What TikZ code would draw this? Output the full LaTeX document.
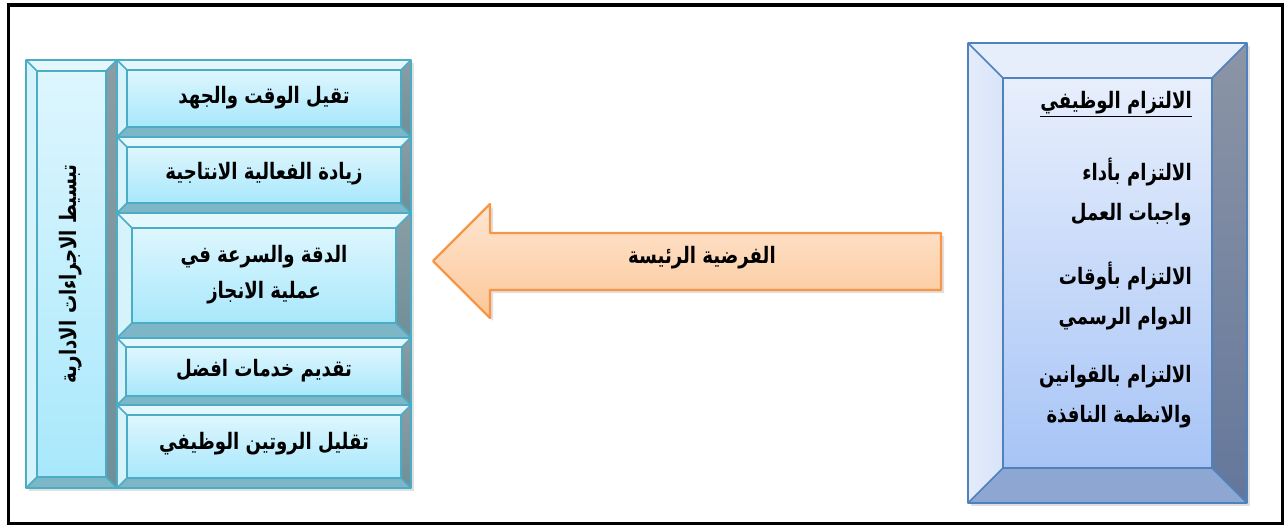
\documentclass[tikz,border=0pt]{standalone}
\usepackage{fontspec}
\newfontfamily\arabicfont[Script=Arabic,FakeStretch=0.8]{DejaVu Sans}
\TeXXeTstate=1

\definecolor{cyanedge}{HTML}{4BACC6}
\definecolor{cyanfacetop}{HTML}{DEF6FE}
\definecolor{cyanfacebot}{HTML}{A8E8FB}
\definecolor{cyantop}{HTML}{E4F7FD}
\definecolor{cyanleft}{HTML}{D6F3FC}
\definecolor{cyanrighttop}{HTML}{8A9DA4}
\definecolor{cyanrightbot}{HTML}{6F8F99}
\definecolor{cyanbottom}{HTML}{7DB6C6}
\definecolor{blueedge}{HTML}{4F81BD}
\definecolor{bluefacetop}{HTML}{E8EFFC}
\definecolor{bluefacebot}{HTML}{A7C4F6}
\definecolor{bluetop}{HTML}{E6EDFB}
\definecolor{blueleft}{HTML}{D9E4F9}
\definecolor{bluerighttop}{HTML}{8C95A6}
\definecolor{bluerightbot}{HTML}{64779B}
\definecolor{bluebottom}{HTML}{8EA7D2}
\definecolor{arrowedge}{HTML}{F79646}
\definecolor{arrowtop}{HTML}{FFE6D3}
\definecolor{arrowbot}{HTML}{FBC797}

\tikzset{
  cyan face/.style={top color=cyanfacetop,bottom color=cyanfacebot},
  cyan top/.style={fill=cyantop},
  cyan left/.style={fill=cyanleft},
  cyan right/.style={top color=cyanrighttop,bottom color=cyanrightbot},
  cyan bottom/.style={fill=cyanbottom},
  cyan edge/.style={draw=cyanedge,line width=1.2pt,line join=round},
  blue face/.style={top color=bluefacetop,bottom color=bluefacebot},
  blue top/.style={fill=bluetop},
  blue left/.style={left color=blueleft!70!white,right color=blueleft},
  blue right/.style={top color=bluerighttop,bottom color=bluerightbot},
  blue bottom/.style={fill=bluebottom},
  blue edge/.style={draw=blueedge,line width=1.2pt,line join=round},
  boxtext/.style={font=\arabicfont\bfseries\fontsize{17}{27}\selectfont,align=center},
  listtext/.style={font=\arabicfont\bfseries\fontsize{17}{30}\selectfont,align=right,anchor=east,inner sep=0pt},
}

% bevelled box: x1,y1 (upper left), x2,y2 (lower right), bevel, theme
\newcommand{\bevelbox}[6]{%
  \fill[black,opacity=0.12] ({#1+3},{#2+3}) rectangle ({#3+3},{#4+3});
  \fill[#6 face] ({#1+#5},{#2+#5}) rectangle ({#3-#5},{#4-#5});
  \fill[#6 top] (#1,#2) -- (#3,#2) -- ({#3-#5},{#2+#5}) -- ({#1+#5},{#2+#5}) -- cycle;
  \fill[#6 left] (#1,#2) -- ({#1+#5},{#2+#5}) -- ({#1+#5},{#4-#5}) -- (#1,#4) -- cycle;
  \fill[#6 right] (#3,#2) -- (#3,#4) -- ({#3-#5},{#4-#5}) -- ({#3-#5},{#2+#5}) -- cycle;
  \fill[#6 bottom] (#1,#4) -- (#3,#4) -- ({#3-#5},{#4-#5}) -- ({#1+#5},{#4-#5}) -- cycle;
  \draw[#6 edge] (#1,#2) rectangle (#3,#4) ({#1+#5},{#2+#5}) rectangle ({#3-#5},{#4-#5})
    (#1,#2) -- ({#1+#5},{#2+#5}) (#3,#2) -- ({#3-#5},{#2+#5})
    (#1,#4) -- ({#1+#5},{#4-#5}) (#3,#4) -- ({#3-#5},{#4-#5});
}

\begin{document}
\begin{tikzpicture}[x=0.75pt,y=-0.75pt]
  \useasboundingbox (0,0) rectangle (1285,528);
  % outer frame
  \draw[line width=2.4pt] (8.5,5) rectangle (1282.5,523.5);

  % left column and its items
  \bevelbox{26}{60}{117}{488}{11}{cyan}
  \bevelbox{117}{60}{411}{137}{10}{cyan}
  \bevelbox{117}{137}{411}{213}{10}{cyan}
  \bevelbox{117}{213}{411}{338}{15}{cyan}
  \bevelbox{117}{338}{411}{405}{9}{cyan}
  \bevelbox{117}{405}{411}{488}{10}{cyan}

  \node[boxtext,rotate=90] (simplify) at (71,274) {\beginR تبسيط الاجراءات الادارية\endR};
  \node[boxtext] (time)    at (264,98)  {\beginR تقيل الوقت والجهد\endR};
  \node[boxtext] (effect)  at (264,174) {\beginR زيادة الفعالية الانتاجية\endR};
  \node[boxtext] (speed)   at (264,275) {\beginR الدقة والسرعة في\endR\\\beginR عملية الانجاز\endR};
  \node[boxtext] (service) at (264,371) {\beginR تقديم خدمات افضل\endR};
  \node[boxtext] (routine) at (264,444) {\beginR تقليل الروتين الوظيفي\endR};

  % main hypothesis arrow
  \fill[black,opacity=0.12] (436,264) -- (493,207) -- (493,236) -- (944,236)
    -- (944,293) -- (493,293) -- (493,321) -- cycle;
  \draw[top color=arrowtop,bottom color=arrowbot,draw=arrowedge,line width=1.6pt,line join=round]
    (433,261) -- (490,204) -- (490,233) -- (941,233) -- (941,290) -- (490,290) -- (490,318) -- cycle;
  \node[boxtext] (hypo) at (702,258) {\beginR الفرضية الرئيسة\endR};

  % job commitment box
  \bevelbox{968}{43}{1247}{503}{35}{blue}
  \node[listtext] (commit) at (1192,104) {\underline{\beginR الالتزام الوظيفي\endR}};
  \node[listtext] (duties) at (1192,192) {\beginR الالتزام بأداء\endR\\\beginR واجبات العمل\endR};
  \node[listtext] (hours)  at (1192,296) {\beginR الالتزام بأوقات\endR\\\beginR الدوام الرسمي\endR};
  \node[listtext] (rules)  at (1192,397) {\beginR الالتزام بالقوانين\endR\\\beginR والانظمة النافذة\endR};
\end{tikzpicture}
\end{document}
